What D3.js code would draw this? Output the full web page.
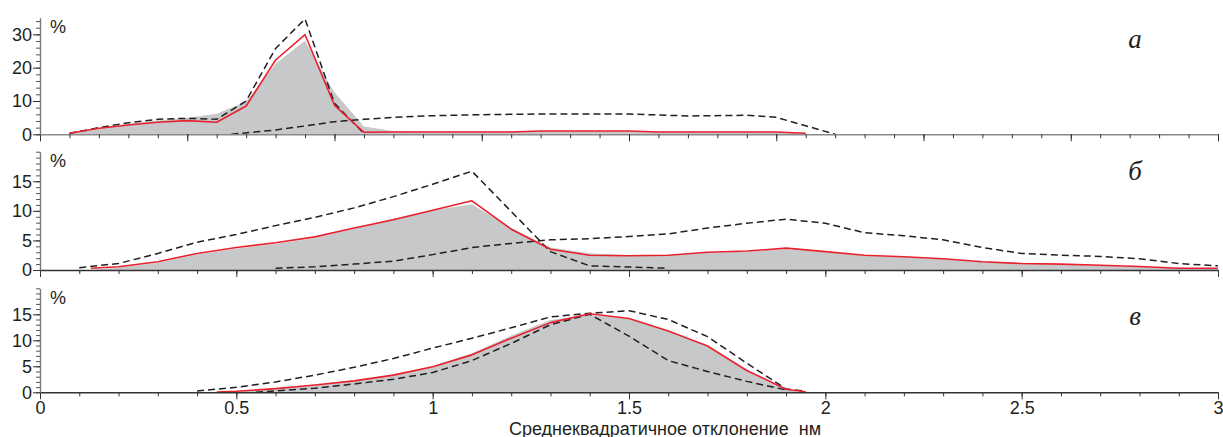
<!DOCTYPE html>
<html lang="ru">
<head>
<meta charset="UTF-8">
<title>Среднеквадратичное отклонение</title>
<script src="https://cdn.jsdelivr.net/npm/d3@7"></script>
<style>
  body { margin: 0; background: #fff; }
  svg { display: block; font-family: "Liberation Sans", Arial, sans-serif; }
</style>
</head>
<body>
<div id="chart"></div>
<script>
// ---- panel а ----
const aX = [0.1, 0.2, 0.3, 0.4, 0.5, 0.6, 0.7, 0.8, 0.9, 1.0, 1.1, 1.2, 1.3,
            1.4, 1.5, 1.6, 1.7, 1.8, 1.9, 2.0, 2.1, 2.2, 2.3, 2.4, 2.5, 2.6];
const aGray = [0.3, 2.0, 3.3, 4.3, 5.1, 6.3, 10.0, 21.3, 28.3, 12.8, 2.5, 1.1, 0.9,
               0.9, 0.9, 0.9, 1.1, 1.2, 1.2, 1.1, 0.9, 0.9, 0.9, 0.9, 0.8, 0.4];
const aRed = [0.3, 1.8, 2.8, 3.6, 4.1, 3.6, 8.5, 22.3, 29.9, 8.7, 0.6, 0.7, 0.7,
              0.7, 0.7, 0.7, 1.0, 1.0, 1.0, 1.0, 0.7, 0.7, 0.7, 0.7, 0.7, 0.3];
const aDash1X = [0.1, 0.2, 0.3, 0.4, 0.5, 0.6, 0.7, 0.8, 0.9, 1.0, 1.1];
const aDash1 = [0.3, 2.0, 3.5, 4.5, 4.8, 4.5, 10.0, 25.8, 34.6, 9.3, 0.2];
const aDash2X = [0.65, 0.8, 0.9, 1.0, 1.1, 1.2, 1.3, 1.5, 1.7, 2.0, 2.2, 2.4, 2.5, 2.7];
const aDash2 = [0, 1.3, 2.5, 3.8, 4.5, 5.1, 5.5, 5.9, 6.1, 6.1, 5.5, 5.7, 5.1, 0];
const aYTicks = [0, 10, 20, 30];

// ---- panel б ----
const bX = [0.13, 0.2, 0.3, 0.4, 0.5, 0.6, 0.7, 0.8, 0.9, 1.0,
            1.1, 1.2, 1.3, 1.4, 1.5, 1.6, 1.7, 1.8, 1.9, 2.0,
            2.1, 2.2, 2.3, 2.4, 2.5, 2.6, 2.7, 2.8, 2.9, 3.0];
const bGray = [0.1, 0.5, 1.3, 2.7, 3.7, 4.5, 5.5, 7.1, 8.8, 10.2,
               11.2, 7.2, 3.9, 2.9, 2.6, 2.5, 3.0, 3.2, 3.6, 3.1,
               2.5, 2.3, 1.9, 1.4, 1.2, 1.0, 0.8, 0.6, 0.4, 0.3];
const bRed = [0.3, 0.56, 1.4, 2.8, 3.8, 4.6, 5.6, 7.1, 8.5, 10.1,
              11.7, 6.9, 3.5, 2.5, 2.4, 2.5, 3.0, 3.2, 3.7, 3.1,
              2.5, 2.25, 1.9, 1.4, 1.1, 1.0, 0.8, 0.6, 0.3, 0.3];
const bDash1X = [0.1, 0.2, 0.3, 0.4, 0.5, 0.6, 0.7, 0.8, 0.9, 1.0, 1.1, 1.2, 1.3, 1.4, 1.5, 1.6];
const bDash1 = [0.4, 1.1, 2.8, 4.7, 6.0, 7.5, 8.9, 10.5, 12.4, 14.5, 16.7, 9.9, 3.1, 0.7, 0.5, 0.3];
const bDash2X = [0.6, 0.7, 0.8, 0.9, 1.0, 1.1, 1.2, 1.3, 1.4, 1.5, 1.6, 1.7, 1.8,
                 1.9, 2.0, 2.1, 2.2, 2.3, 2.4, 2.5, 2.6, 2.7, 2.8, 2.9, 3.0];
const bDash2 = [0.3, 0.55, 1.0, 1.5, 2.6, 3.8, 4.5, 5.1, 5.3, 5.65, 6.1, 7.1, 7.9,
                8.6, 7.9, 6.3, 5.8, 5.1, 3.8, 2.8, 2.5, 2.3, 1.9, 1.1, 0.7];
const bYTicks = [0, 5, 10, 15];

// ---- panel в ----
const cX = [0.45, 0.5, 0.6, 0.7, 0.8, 0.9, 1.0, 1.1, 1.2, 1.3, 1.4, 1.5, 1.6, 1.7, 1.8, 1.9, 1.95];
const cGray = [0, 0.2, 0.7, 1.4, 2.3, 3.5, 5.1, 7.6, 11.0, 14.0, 15.0, 14.2, 11.8, 8.9, 4.2, 0.6, 0];
const cRed = [0.05, 0.2, 0.7, 1.4, 2.2, 3.3, 4.9, 7.2, 10.4, 13.4, 15.1, 14.2, 11.8, 8.9, 4.2, 0.6, 0.1];
const cDash1X = [0.4, 0.5, 0.6, 0.7, 0.8, 0.9, 1.0, 1.1, 1.2, 1.3, 1.4, 1.5, 1.6, 1.7, 1.8, 1.9, 1.95];
const cDash1 = [0.25, 0.96, 2.0, 3.3, 4.8, 6.5, 8.5, 10.4, 12.4, 14.5, 15.2, 15.7, 14.0, 10.7, 5.6, 0.63, 0.25];
const cDash2X = [0.55, 0.6, 0.7, 0.8, 0.9, 1.0, 1.1, 1.2, 1.3, 1.4, 1.5, 1.6, 1.7, 1.8, 1.9];
const cDash2 = [0, 0.25, 0.77, 1.6, 2.5, 3.8, 6.1, 9.4, 13.0, 15.0, 10.8, 6.1, 4.0, 2.1, 0.45];
const cYTicks = [0, 5, 10, 15];

const xTickLabels = [0, 0.5, 1, 1.5, 2, 2.5, 3];
const panelLetters = ["а", "б", "в"];
const xTitle = "Среднеквадратичное отклонение  нм";

(() => {
    const width = 1223;
    const height = 437;
    const left = 40, right = 1218;

    const svg = d3.select("#chart").append("svg")
        .attr("width", width)
        .attr("height", height);

    const panels = [
        { top: 17.7, base: 134.3, xMax: 4, yMax: 35, yTicks: aYTicks, yMinor: 2, letterY: 48, pctY: 33,
          gray: [aX, aGray], red: [aX, aRed], dashes: [[aDash1X, aDash1], [aDash2X, aDash2]], axisColor: "#8a8a8a" },
        { top: 151.7, base: 270, xMax: 3, yMax: 20, yTicks: bYTicks, yMinor: 1, letterY: 180, pctY: 166.5,
          gray: [bX, bGray], red: [bX, bRed], dashes: [[bDash1X, bDash1], [bDash2X, bDash2]], axisColor: "#333" },
        { top: 288.3, base: 392.3, xMax: 3, yMax: 20, yTicks: cYTicks, yMinor: 1, letterY: 325, pctY: 303.5,
          gray: [cX, cGray], red: [cX, cRed], dashes: [[cDash1X, cDash1], [cDash2X, cDash2]], axisColor: "#333",
          labels: true }
    ];

    panels.forEach((p, i) => {
        const x = d3.scaleLinear().domain([0, p.xMax]).range([left, right]);
        const y = d3.scaleLinear().domain([0, p.yMax]).range([p.base, p.top]);
        const g = svg.append("g");

        const area = d3.area()
            .x(d => x(d[0]))
            .y0(y(0))
            .y1(d => y(d[1]));
        const line = d3.line()
            .x(d => x(d[0]))
            .y(d => y(d[1]));

        const grayPts = d3.zip(p.gray[0], p.gray[1]);
        g.append("path")
            .attr("d", area(grayPts))
            .attr("fill", "#c7c8ca");
        g.append("path")
            .attr("d", line(grayPts))
            .attr("fill", "none")
            .attr("stroke", "#fff")
            .attr("stroke-width", 1);

        p.dashes.forEach(s => {
            g.append("path")
                .attr("d", line(d3.zip(s[0], s[1])))
                .attr("fill", "none")
                .attr("stroke", "#231f20")
                .attr("stroke-width", 1.5)
                .attr("stroke-dasharray", "7,4");
        });

        g.append("path")
            .attr("d", line(d3.zip(p.red[0], p.red[1])))
            .attr("fill", "none")
            .attr("stroke", "#e8212d")
            .attr("stroke-width", 1.6)
            .attr("stroke-linejoin", "round");

        // x axis: minor every 0.1, major every 0.5
        const minorX = d3.range(0, p.xMax + 0.001, 0.1).map(v => +v.toFixed(2));
        const majorX = d3.range(0, p.xMax + 0.001, 0.5);
        const xMinorAxis = g.append("g")
            .attr("transform", `translate(0,${p.base})`)
            .call(d3.axisBottom(x).tickValues(minorX).tickSize(4).tickSizeOuter(0).tickFormat(""));
        xMinorAxis.select(".domain").attr("stroke", p.axisColor).attr("stroke-width", 1.4);
        xMinorAxis.selectAll(".tick line").attr("stroke", "#333");

        const xMajorAxis = g.append("g")
            .attr("transform", `translate(0,${p.base})`)
            .call(d3.axisBottom(x)
                .tickValues(p.labels ? xTickLabels : majorX)
                .tickSize(7)
                .tickPadding(1.5)
                .tickFormat(p.labels ? d3.format("") : ""));
        xMajorAxis.select(".domain").remove();
        xMajorAxis.selectAll(".tick line").attr("stroke", "#333");
        xMajorAxis.selectAll("text")
            .attr("font-size", 18)
            .attr("font-family", "Liberation Sans, Arial, sans-serif")
            .attr("fill", "#231f20");

        // y axis
        const minorY = d3.range(0, p.yMax + 0.001, p.yMinor);
        const yMinorAxis = g.append("g")
            .attr("transform", `translate(${left},0)`)
            .call(d3.axisLeft(y).tickValues(minorY).tickSize(4).tickSizeOuter(0).tickFormat(""));
        yMinorAxis.select(".domain").attr("stroke", "#7a7a7a").attr("stroke-width", 1.4);
        yMinorAxis.selectAll(".tick line").attr("stroke", "#555");

        const yMajorAxis = g.append("g")
            .attr("transform", `translate(${left},0)`)
            .call(d3.axisLeft(y).tickValues(p.yTicks).tickSize(7).tickPadding(1));
        yMajorAxis.select(".domain").remove();
        yMajorAxis.selectAll(".tick line").attr("stroke", "#333");
        yMajorAxis.selectAll("text")
            .attr("font-size", 18)
            .attr("font-family", "Liberation Sans, Arial, sans-serif")
            .attr("fill", "#231f20");

        g.append("text")
            .attr("x", 50)
            .attr("y", p.pctY)
            .attr("font-size", 18)
            .attr("fill", "#231f20")
            .text("%");

        g.append("text")
            .attr("x", 1135)
            .attr("y", p.letterY)
            .attr("text-anchor", "middle")
            .attr("font-family", "Liberation Serif, Times New Roman, serif")
            .attr("font-style", "italic")
            .attr("font-size", 27)
            .attr("fill", "#231f20")
            .text(panelLetters[i]);
    });

    svg.append("text")
        .attr("x", 665)
        .attr("y", 434.5)
        .attr("text-anchor", "middle")
        .attr("font-size", 18)
        .attr("fill", "#231f20")
        .style("white-space", "pre")
        .text(xTitle);
})();
</script>
</body>
</html>
